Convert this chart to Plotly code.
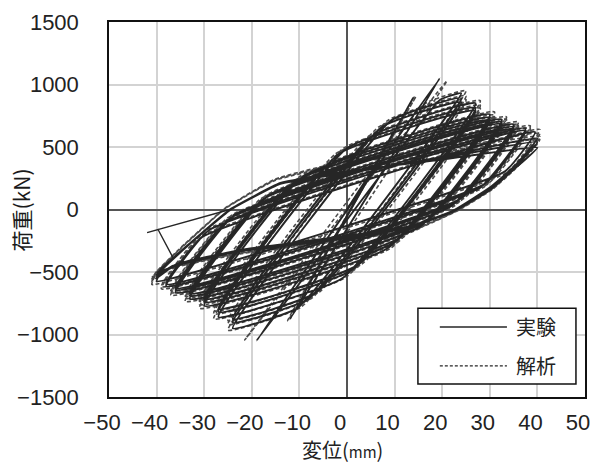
import plotly.graph_objects as go

# ---- data ----
# 実験 (experiment) load path: displacement (mm) / load (kN)
exp_x = [0, 5, -4, 9.5, -8, 14, -12, 19.5,
         -19,
         19.5, 24, -10.3, -24,
         9.3, 24, -8.1, -24,
         7.3, 24, -6.5, -24,
         5.3, 27, -0.9, -27,
         0.0, 27, 1.0, -27,
         -1.7, 27, 2.3, -27,
         -4.1, 30, 8.7, -30,
         -9.3, 30, 10.1, -30,
         -10.7, 30, 11.3, -30,
         -12.0, 32.5, 15.4, -33,
         -16.5, 32.5, 16.6, -33,
         -17.5, 32.5, 17.5, -33,
         -18.9, 35, 22, -36,
         -23.6, 35, 23.1, -36,
         -24.5, 35, 23.9, -36,
         -25.5, 37.5, 28, -38,
         -29, 37.5, 29, -38,
         -30.4, 39.5, 33.2, -40,
         -39, -33, -24.6, -14, 0, 20, 40,
         35, 30, 22.5, 14, 0, -22.5, -36, -40,
         -39.2, -33, -24.6, -14, 0, 20, 40,
         35, 30, 22.3, 13.5, 0, -22.5, -36.5, -40,
         -39.3, -33, -24.6, -14, 0, 20, 40,
         35, 30, 22.3, 12.5, 0, -22.5, -35, -40]
exp_y = [0, 300, -330, 600, -600, 900, -880, 1050,
         -1050,
         876, 930, -785, -950,
         713, 890, -714, -905,
         659, 860, -665, -875,
         589, 850, -548, -860,
         491, 815, -484, -820,
         446, 790, -443, -795,
         351, 760, -306, -770,
         263, 735, -259, -740,
         227, 715, -220, -715,
         186, 720, -135, -715,
         113, 700, -95, -690,
         85, 685, -67, -672,
         33, 680, 30, -665,
         -43, 660, 64, -645,
         -69, 645, 88, -630,
         -106, 650, 177, -615,
         -166, 632, 205, -598,
         -219, 620, 305, -575,
         -490, -275, -5, 205, 290, 420, 570,
         340, 175, -5, -130, -210, -325, -440, -550,
         -488, -272, 0, 210, 300, 410, 540,
         330, 165, -12, -140, -220, -330, -450, -525,
         -484, -270, 0, 212, 305, 400, 495,
         320, 156, -17, -151, -230, -335, -440, -505]

# 実験: final short branch at the left end of the test
exp_end_x = [-36.5, -39.7, -42, -24.6]
exp_end_y = [-389, -160, -185, 0]

# 解析 (analysis) load path
ana_x = [0, 5.5, -4.5, 10, -8.5, 14.5, -12.5, 21,
         -21.5,
         16.3, 25, -9.6, -25,
         8.6, 25, -7.4, -25,
         6.6, 25, -5.8, -25,
         4.6, 28, -0.2, -28,
         -0.7, 28, 1.7, -28,
         -2.4, 28, 3.1, -28,
         -4.8, 31, 9.3, -31,
         -9.9, 31, 10.7, -31,
         -11.2, 31, 11.9, -31,
         -12.6, 33.5, 16, -34,
         -17, 33.5, 17.2, -34,
         -18.1, 33.5, 18.1, -34,
         -19.5, 36, 22.6, -37,
         -24.1, 36, 23.7, -37,
         -25.1, 36, 24.5, -37,
         -26.1, 38.5, 28.6, -39,
         -29.6, 38.5, 29.6, -39,
         -31, 40.5, 33.6, -41,
         -40, -34, -25.5, -15, 0, 20, 40.5,
         35.5, 30.5, 23, 14.5, 0, -22.5, -37, -41,
         -40, -34, -25.5, -15, 0, 20, 40.5,
         35.5, 30.5, 23, 14.5, 0, -22.5, -37, -41,
         -40, -34, -25.5, -15, 0, 20, 40.5,
         35.5, 30.5, 23, 14.5, 0, -22.5, -37, -41]
ana_y = [0, 310, -340, 610, -615, 905, -890, 1030,
         -1045,
         846, 950, -780, -965,
         713, 910, -709, -920,
         659, 880, -660, -890,
         589, 870, -542, -875,
         491, 835, -478, -835,
         445, 810, -438, -810,
         351, 780, -307, -790,
         264, 755, -260, -760,
         228, 735, -220, -735,
         187, 740, -135, -735,
         114, 720, -96, -710,
         86, 705, -68, -692,
         34, 700, 30, -685,
         -42, 680, 63, -665,
         -68, 665, 87, -650,
         -105, 670, 175, -635,
         -165, 652, 204, -618,
         -218, 640, 295, -600,
         -505, -280, 10, 235, 370, 470, 610,
         345, 170, -8, -145, -230, -345, -460, -575,
         -500, -276, 12, 240, 380, 460, 585,
         338, 165, -12, -152, -238, -350, -465, -555,
         -495, -272, 14, 245, 390, 450, 560,
         330, 160, -15, -158, -245, -355, -470, -540]

x_ticks = [-50, -40, -30, -20, -10, 0, 10, 20, 30, 40, 50]
y_ticks = [-1500, -1000, -500, 0, 500, 1000, 1500]

names = ["実験", "解析"]

NUM_FONT = "Liberation Sans, Arial, sans-serif"
JP_FONT = "Noto Sans CJK JP, Noto Sans CJK SC, sans-serif"

fig = go.Figure()
fig.add_trace(go.Scatter(x=ana_x, y=ana_y, mode="lines", name=names[1],
                         line=dict(color="#4a4a4a", width=1.6, dash="4px,2.5px",
                                   shape="spline", smoothing=0.35),
                         showlegend=False))
fig.add_trace(go.Scatter(x=exp_x, y=exp_y, mode="lines", name=names[0],
                         line=dict(color="#262626", width=1.9,
                                   shape="spline", smoothing=0.35),
                         showlegend=False))
fig.add_trace(go.Scatter(x=exp_end_x, y=exp_end_y, mode="lines", name=names[0],
                         line=dict(color="#262626", width=1.4),
                         showlegend=False))

axis_common = dict(showgrid=True, gridcolor="#d3d3d3", gridwidth=1.5,
                   zeroline=True, zerolinecolor="#555555", zerolinewidth=1.5,
                   showline=True, linecolor="#111111", linewidth=1.5, mirror=True,
                   automargin=False, tickangle=0,
                   tickfont=dict(family=NUM_FONT, size=22, color="#222222"))

fig.update_xaxes(range=[-50, 50], tickvals=x_ticks, ticklabelshift=-7,
                 ticks="", ticklabelstandoff=5, **axis_common)
fig.update_yaxes(range=[-1500, 1500], tickvals=y_ticks,
                 ticks="outside", ticklen=18, tickcolor="rgba(0,0,0,0)",
                 ticklabelstandoff=6, **axis_common)

# legend box (drawn in paper coordinates)
fig.add_shape(type="rect", xref="paper", yref="paper",
              x0=0.649, x1=0.981, y0=0.035, y1=0.237,
              line=dict(color="#111111", width=1.5), fillcolor="white", layer="above")
fig.add_shape(type="line", xref="paper", yref="paper",
              x0=0.695, x1=0.836, y0=0.187, y1=0.187,
              line=dict(color="#262626", width=1.5), layer="above")
fig.add_shape(type="line", xref="paper", yref="paper",
              x0=0.695, x1=0.836, y0=0.083, y1=0.083,
              line=dict(color="#262626", width=1.3, dash="3px,2px"), layer="above")
fig.add_annotation(xref="paper", yref="paper", x=0.851, y=0.187, text=names[0],
                   showarrow=False, xanchor="left", yanchor="middle",
                   font=dict(family=JP_FONT, size=20, color="#222222"))
fig.add_annotation(xref="paper", yref="paper", x=0.851, y=0.083, text=names[1],
                   showarrow=False, xanchor="left", yanchor="middle",
                   font=dict(family=JP_FONT, size=20, color="#222222"))

# axis titles
fig.add_annotation(xref="paper", yref="paper", x=-0.185, y=0.5, text="荷重(kN)",
                   textangle=-90, showarrow=False, xanchor="center", yanchor="middle",
                   font=dict(family=JP_FONT, size=21, color="#1a1a1a"))
fig.add_annotation(xref="paper", yref="paper", x=0.49, y=-0.141,
                   text="変位(<span style='font-size:15px'>mm</span>)",
                   showarrow=False, xanchor="center", yanchor="middle",
                   font=dict(family=JP_FONT, size=20, color="#222222"))

fig.update_layout(width=592, height=464,
                  margin=dict(l=109, r=7, t=22, b=67),
                  paper_bgcolor="white", plot_bgcolor="white",
                  showlegend=False)

fig.write_html("out.html", config={"displayModeBar": False},
               post_script="document.body.style.margin='0';document.body.style.overflow='hidden';")
